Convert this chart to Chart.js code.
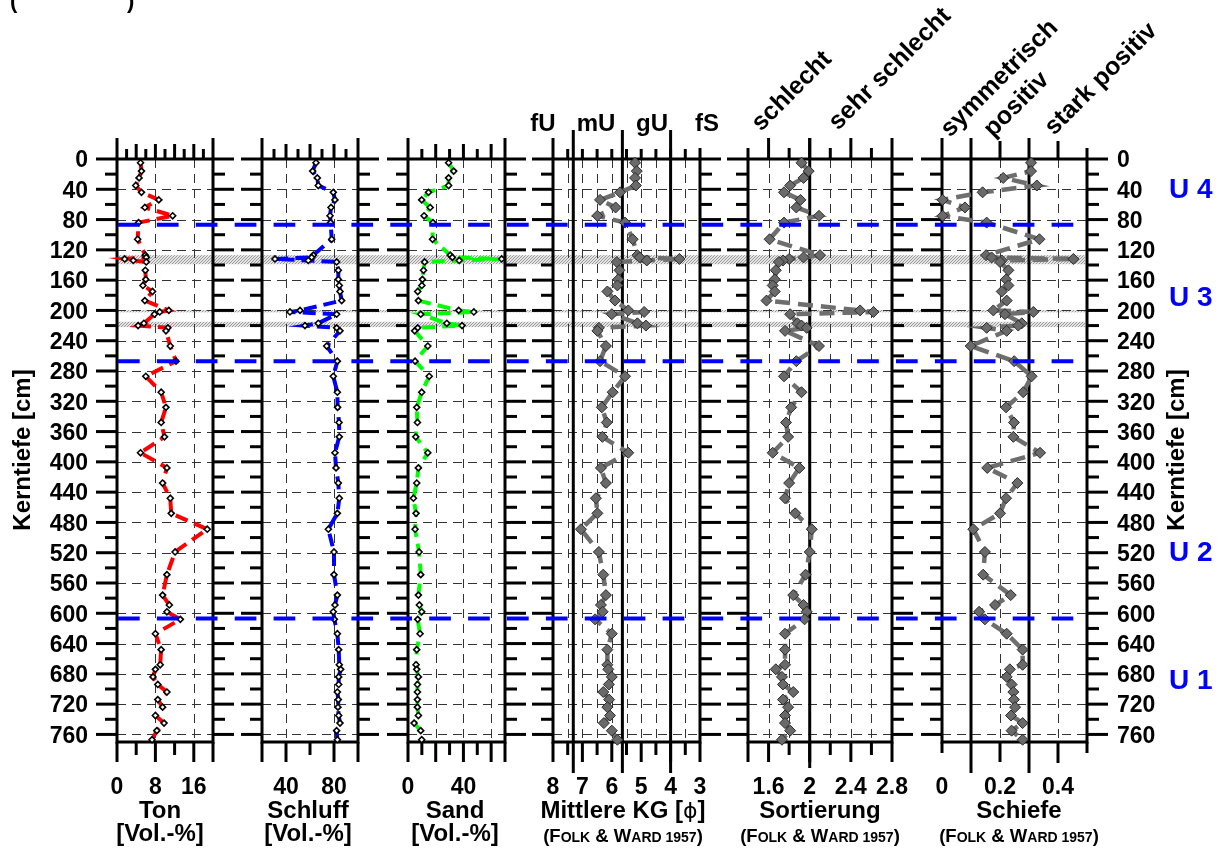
<!DOCTYPE html>
<html><head><meta charset="utf-8">
<title>Kernprofil Korngrößen</title>
<script src="https://cdn.jsdelivr.net/npm/chart.js"></script>
<style>
html,body{margin:0;padding:0;background:#fff;}
#wrap{position:relative;width:1222px;height:850px;overflow:hidden;background:#fff;}
#wrap canvas{position:absolute;left:0;top:0;}
</style></head>
<body><div id="wrap"></div>
<script>
// ---------------- DATA ----------------
const depth = [5,16,25,35,44,54,64,75,84,106,
  127,130,132,134,136,147,159,167,175,187,
  200,202,205,217,220,223,227,247,267,287,
  308,328,348,367,388,408,428,448,468,489,
  519,549,576,589,598,608,627,648,668,674,
  684,694,704,714,724,735,745,755,767];
const ton = [4.9,5.1,4.6,3.9,5.1,8.7,5.8,11.6,4.5,4.3,
  5.9,6.1,1.6,3.4,6.1,5.9,6.0,5.4,7.4,5.8,
  10.8,8.9,7.8,5.6,4.4,10.6,10.2,11.1,12.3,6.0,
  9.2,10.2,9.2,9.9,4.9,10.4,9.5,11.1,11.3,18.8,
  12.1,10.4,9.5,10.9,10.4,13.2,8.0,9.2,9.0,8.0,
  7.5,8.5,10.4,8.5,9.5,8.0,9.8,8.3,7.3];
const schluff = [65.0,62.2,66.1,66.9,79.4,80.8,77.5,76.7,77.2,78.1,
  62.8,61.4,30.8,58.6,82.2,83.6,83.6,84.4,85.0,86.4,
  51.7,43.3,82.2,66.9,55.8,82.2,85.0,73.9,82.8,79.4,
  82.8,83.0,84.2,84.4,80.8,81.7,83.6,84.4,82.8,75.3,
  80.0,80.0,82.8,80.8,79.4,80.3,82.8,83.9,84.4,85.6,
  83.9,83.9,82.8,83.6,83.3,83.9,85.0,82.2,82.8];
const sand = [29.3,33.0,29.3,29.3,14.8,9.9,16.0,11.6,18.0,17.7,
  30.5,32.0,67.6,37.0,12.0,11.2,10.4,10.0,7.0,7.5,
  36.6,47.5,9.2,28.0,39.0,7.0,4.8,14.3,5.1,15.3,
  9.9,6.3,6.8,5.6,14.3,7.5,6.3,3.9,5.8,5.1,
  8.0,9.2,7.5,8.2,9.9,7.0,8.7,6.3,5.8,6.3,
  7.5,6.8,6.8,6.8,6.8,7.5,4.4,9.2,9.9];
const mittlereKG = [5.21,5.15,5.21,5.18,5.72,6.40,5.87,6.49,5.55,5.29,
  5.13,5.05,3.70,4.81,5.83,5.74,5.78,5.81,6.15,5.89,
  5.44,4.90,6.00,5.13,4.84,6.44,6.49,6.20,6.40,5.55,
  5.97,6.34,6.17,6.32,5.44,6.37,6.20,6.54,6.49,7.05,
  6.44,6.29,6.20,6.37,6.31,6.57,6.00,6.15,6.15,6.12,
  6.00,6.10,6.29,6.09,6.15,6.06,6.27,6.00,5.81];
const sortierung = [1.92,1.99,1.94,1.81,1.75,1.91,1.87,2.09,1.75,1.61,
  2.10,1.94,1.80,1.74,1.70,1.67,1.66,1.64,1.66,1.58,
  2.49,2.62,1.81,1.88,1.92,1.97,1.76,2.09,1.87,1.75,
  1.92,1.82,1.77,1.79,1.64,1.90,1.80,1.76,1.86,2.02,
  2.00,1.96,1.84,1.94,1.97,1.95,1.76,1.76,1.76,1.67,
  1.73,1.74,1.84,1.74,1.79,1.76,1.76,1.81,1.73];
const schiefe = [0.307,0.307,0.211,0.327,0.140,0.002,0.079,0.002,0.154,0.336,
  0.152,0.171,0.453,0.206,0.200,0.229,0.221,0.229,0.206,0.223,
  0.177,0.315,0.217,0.275,0.263,0.154,0.223,0.099,0.249,0.309,
  0.280,0.221,0.248,0.246,0.338,0.156,0.260,0.221,0.200,0.108,
  0.148,0.142,0.237,0.183,0.128,0.148,0.223,0.278,0.278,0.234,
  0.223,0.240,0.246,0.248,0.252,0.238,0.278,0.240,0.278];

const depthLabels = [0,40,80,120,160,200,240,280,320,360,400,440,480,520,560,600,640,680,720,760];
const unitBoundaries = [87, 267, 607];
const sandLayers = [[127,139],[199.5,202.5],[215,222]];
const unitNames = ['U 4','U 3','U 2','U 1'];
const unitDepths = [40, 183, 520, 688];
const kgClasses = ['fU','mU','gU','fS'];
const sortClasses = ['schlecht','sehr schlecht'];
const skewClasses = ['symmetrisch','positiv','stark positiv'];

// ---------------- HELPERS ----------------
const FONT = '"Liberation Sans", Arial, Helvetica, sans-serif';
const bold = px => 'bold ' + px + 'px ' + FONT;
function seq(a,b,s){const r=[];const n=Math.round((b-a)/s);for(let i=0;i<=n;i++)r.push(+(a+i*s).toFixed(6));return r;}
const isMul=(v,m)=>Math.abs(v/m-Math.round(v/m))<1e-6;
function line(ctx,x1,y1,x2,y2){ctx.beginPath();ctx.moveTo(x1,y1);ctx.lineTo(x2,y2);ctx.stroke();}

const stipple = (()=>{const c=document.createElement('canvas');c.width=3;c.height=3;const g=c.getContext('2d');
  g.fillStyle='#e4e4e4';g.fillRect(0,0,3,3);g.fillStyle='#9a9a9a';g.fillRect(0,0,1,1);g.fillRect(2,1,1,1);g.fillRect(1,2,1,1);return c;})();

// ---------------- PANELS ----------------
const panels = [
 {key:'ton', left:117, right:213, min:0, max:20, rev:false, values:ton, color:'#ff0000', gray:false,
  grid:[8,16], labels:[0,8,16], classes:[], classTop:0, classBot:0,
  top: seq(0,20,2).map(v=>[v,(v===0||v===20)?21:isMul(v,4)?15:10]),
  bot: seq(0,20,4).map(v=>[v,(isMul(v,8)||v===20)?20:13])},
 {key:'schluff', left:262, right:358, min:20, max:100, rev:false, values:schluff, color:'#0000ff', gray:false,
  grid:[40,80], labels:[40,80], classes:[], classTop:0, classBot:0,
  top: seq(20,100,10).map(v=>[v,(v===20||v===100)?21:isMul(v,20)?15:10]),
  bot: seq(20,100,20).map(v=>[v,v===60?13:20])},
 {key:'sand', left:408, right:505, min:0, max:70, rev:false, values:sand, color:'#00ff00', gray:false,
  grid:[20,40,60], labels:[0,40], classes:[], classTop:0, classBot:0,
  top: seq(0,70,10).map(v=>[v,(v===0||v===70)?21:isMul(v,20)?15:10]),
  bot: seq(0,70,10).map(v=>[v,(isMul(v,20)||v===70)?20:13])},
 {key:'kg', left:553, right:700, min:3, max:8, rev:true, values:mittlereKG, color:'#6e6e6e', gray:true,
  grid:[7.5,7,6.5,6,5.5,5,4.5,3.5], labels:[8,7,6,5,4,3], classes:[7.31,5.64,4.0], classTop:29, classBot:31,
  top: seq(3,8,0.5).map(v=>[v,v===8?21:v===3?11:10]),
  bot: seq(3,8,0.5).map(v=>[v,isMul(v,1)?20:13])},
 {key:'sort', left:748, right:892, min:1.4, max:2.8, rev:false, values:sortierung, color:'#6e6e6e', gray:true,
  grid:[1.6,1.8,2.2,2.4,2.6], labels:[1.6,2,2.4,2.8], classes:[2.0], classTop:21, classBot:26,
  top: seq(1.4,2.8,0.2).map(v=>[v,isMul(v-1.6,0.4)?21:11]),
  bot: seq(1.4,2.8,0.2).map(v=>[v,isMul(v-1.6,0.4)||v===1.4?20:13])},
 {key:'schiefe', left:942, right:1087, min:0, max:0.5, rev:false, values:schiefe, color:'#6e6e6e', gray:true,
  grid:[0.2,0.4], labels:[0,0.2,0.4], classes:[0.1,0.3], classTop:21, classBot:31,
  top: [[0,21],[0.2,18],[0.4,18],[0.5,11]],
  bot: [[0,11],[0.2,20],[0.4,21],[0.5,11]]}
];

const W=1222, H=850, TOP=159, BOTTOM=742;

function decoPlugin(p, idx){
  return {
    id:'deco'+idx,
    beforeDatasetsDraw(chart){
      const ctx=chart.ctx, a=chart.chartArea, x=chart.scales.x, y=chart.scales.y;
      ctx.save();
      if(idx===0){
        ctx.fillStyle = ctx.createPattern(stipple,'repeat');
        sandLayers.forEach(([d0,d1])=>{
          const y0=y.getPixelForValue(d0), y1=y.getPixelForValue(d1);
          ctx.fillRect(117, y0, 1085-117, y1-y0);
        });
      }
      ctx.strokeStyle='#333'; ctx.lineWidth=1; ctx.setLineDash([9,6]);
      for(let d=40; d<=760; d+=40){const py=Math.round(y.getPixelForValue(d))+0.5; line(ctx,a.left,py,a.right,py);}
      p.grid.forEach(v=>{const px=Math.round(x.getPixelForValue(v))+0.5; line(ctx,px,a.top,px,a.bottom);});
      ctx.setLineDash([]);
      ctx.strokeStyle='#000'; ctx.lineWidth=3; ctx.lineCap='butt';
      for(let d=0; d<=760; d+=20){
        const py=y.getPixelForValue(d); const L=(d%40===0)?21:12;
        line(ctx,a.left-L,py,a.left,py); line(ctx,a.right,py,a.right+L,py);
      }
      p.top.forEach(([v,L])=>{const px=x.getPixelForValue(v); line(ctx,px,a.top-L,px,a.top);});
      p.bot.forEach(([v,L])=>{const px=x.getPixelForValue(v); line(ctx,px,a.bottom,px,a.bottom+L);});
      p.classes.forEach(v=>{const px=x.getPixelForValue(v); line(ctx,px,a.top-p.classTop,px,a.bottom+p.classBot);});
      ctx.strokeRect(a.left,a.top,a.right-a.left,a.bottom-a.top);
      ctx.fillStyle='#000'; ctx.font=bold(23); ctx.textAlign='center'; ctx.textBaseline='alphabetic';
      p.labels.forEach(v=>ctx.fillText(String(v), x.getPixelForValue(v), 794));
      ctx.restore();
    }
  };
}

function smallCaps(ctx, cx, by){
  const big=bold(18.5), small=bold(14);
  const segs=[['(',big],['F',big],['OLK',small],[' & ',big],['W',big],['ARD 1957',small],[')',big]];
  let w=0; segs.forEach(([t,f])=>{ctx.font=f; w+=ctx.measureText(t).width;});
  let x=cx-w/2; ctx.textAlign='left';
  segs.forEach(([t,f])=>{ctx.font=f; ctx.fillText(t,x,by); x+=ctx.measureText(t).width;});
}

const overlay = {
  id:'overlay',
  afterDraw(chart){
    const ctx=chart.ctx, y=chart.scales.y;
    ctx.save();
    // unit boundaries
    ctx.strokeStyle='#0000ff'; ctx.lineWidth=4; ctx.setLineDash([21.7,17.2]);
    unitBoundaries.forEach(d=>{const py=y.getPixelForValue(d); line(ctx,118,py,1075,py);});
    ctx.setLineDash([]);
    ctx.fillStyle='#000';
    // depth labels
    ctx.font=bold(23); ctx.textBaseline='middle';
    depthLabels.forEach(d=>{
      const py=y.getPixelForValue(d)+2;
      ctx.textAlign='right'; ctx.fillText(String(d),88,py);
      ctx.textAlign='left'; ctx.fillText(String(d),1117,py);
    });
    // axis titles
    ctx.textBaseline='alphabetic'; ctx.textAlign='center'; ctx.font=bold(24);
    [['Ton',160],['Schluff',308],['Sand',455],['Sortierung',820],['Schiefe',1019]].forEach(([t,x])=>ctx.fillText(t,x,818));
    {
      const a='Mittlere KG [', b='\u03D5', c=']';
      ctx.font=bold(24); const wa=ctx.measureText(a).width, wc=ctx.measureText(c).width;
      ctx.font='22px "DejaVu Sans", sans-serif'; const wb=ctx.measureText(b).width;
      let x=623-(wa+wb+wc)/2; ctx.textAlign='left';
      ctx.font=bold(24); ctx.fillText(a,x,818); x+=wa;
      ctx.font='22px "DejaVu Sans", sans-serif'; ctx.fillText(b,x,818); x+=wb;
      ctx.font=bold(24); ctx.fillText(c,x,818);
    }
    ctx.textAlign='center'; ctx.font=bold(24);
    [160,308,455].forEach(x=>ctx.fillText('[Vol.-%]',x,841));
    [623,820,1019].forEach(x=>smallCaps(ctx,x,842));
    // grain size classes
    ctx.textAlign='center'; ctx.font=bold(24);
    [543,596,652,707].forEach((x,i)=>ctx.fillText(kgClasses[i],x,131));
    // rotated class names
    const rot=[[sortClasses[0],761,132],[sortClasses[1],838,131],[skewClasses[0],950,138],[skewClasses[1],993,138],[skewClasses[2],1054,136]];
    ctx.textAlign='left'; ctx.font=bold(25);
    rot.forEach(([t,x,yy])=>{ctx.save();ctx.translate(x,yy);ctx.rotate(-Math.PI/4);ctx.fillText(t,0,0);ctx.restore();});
    // Kerntiefe
    ctx.textAlign='center'; ctx.textBaseline='middle'; ctx.font=bold(24);
    [[23,450],[1177,450]].forEach(([x,yy])=>{ctx.save();ctx.translate(x,yy);ctx.rotate(-Math.PI/2);ctx.fillText('Kerntiefe [cm]',0,0);ctx.restore();});
    // unit names
    ctx.fillStyle='#0000ff'; ctx.font=bold(28); ctx.textAlign='left'; ctx.textBaseline='middle';
    unitNames.forEach((t,i)=>ctx.fillText(t,1169,y.getPixelForValue(unitDepths[i])+1));
    // clipped heading remnants
    ctx.fillStyle='#000'; ctx.font=bold(22); ctx.textBaseline='alphabetic';
    ctx.fillText('(',10,8); ctx.fillText(')',127,8);
    ctx.restore();
  }
};

const wrap=document.getElementById('wrap');
panels.forEach((p,idx)=>{
  const cv=document.createElement('canvas'); cv.width=W; cv.height=H; wrap.appendChild(cv);
  const ds={
    data: depth.map((d,i)=>({x:p.values[i], y:d})),
    showLine:true, clip:false,
    borderColor:p.color, borderWidth:p.gray?4.5:4, borderDash:p.gray?[15,8]:[13,7],
    pointStyle:'rectRot',
    pointRadius:p.gray?5.5:3, pointBorderWidth:p.gray?1:1.6,
    pointBorderColor:p.gray?'#2a2a2a':'#000', pointBackgroundColor:p.gray?'#6a6a6a':'#fff'
  };
  const plugins=[decoPlugin(p,idx)];
  if(idx===panels.length-1) plugins.push(overlay);
  new Chart(cv,{
    type:'scatter',
    data:{datasets:[ds]},
    options:{
      responsive:false, animation:false, events:[], devicePixelRatio:1,
      layout:{padding:{left:p.left, right:W-p.right, top:TOP, bottom:H-BOTTOM}},
      scales:{
        x:{type:'linear', min:p.min, max:p.max, reverse:p.rev, display:false},
        y:{type:'linear', min:0, max:770, reverse:true, display:false}
      },
      plugins:{legend:{display:false}, tooltip:{enabled:false}}
    },
    plugins
  });
});
</script>
</body></html>
